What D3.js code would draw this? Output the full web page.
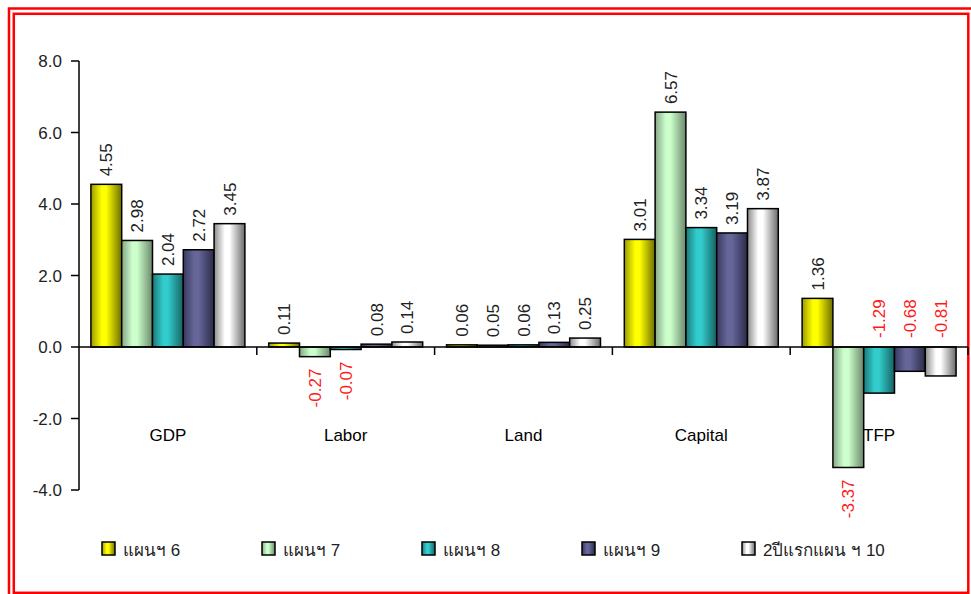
<!DOCTYPE html>
<html>
<head>
<meta charset="utf-8">
<script src="https://cdn.jsdelivr.net/npm/d3@7"></script>
<style>
  html, body { margin: 0; padding: 0; background: #fff; }
  svg { display: block; }
  text { font-family: "Liberation Sans", Arial, "Noto Sans", "DejaVu Sans", sans-serif; }
</style>
</head>
<body>
<svg id="chart" width="971" height="594"></svg>
<script>
// ---- data ----
const categories = ["GDP", "Labor", "Land", "Capital", "TFP"];
const seriesNames = ["แผนฯ 6", "แผนฯ 7", "แผนฯ 8", "แผนฯ 9", "2ปีแรกแผน ฯ 10"];
const plan6  = [4.55, 0.11, 0.06, 3.01, 1.36];
const plan7  = [2.98, -0.27, 0.05, 6.57, -3.37];
const plan8  = [2.04, -0.07, 0.06, 3.34, -1.29];
const plan9  = [2.72, 0.08, 0.13, 3.19, -0.68];
const plan10 = [3.45, 0.14, 0.25, 3.87, -0.81];
const yTicks = [-4, -2, 0, 2, 4, 6, 8];

const seriesValues = [plan6, plan7, plan8, plan9, plan10];
// bar gradient colours [edge-left, centre, edge-right]
const seriesColors = [
  ["#9a9a00", "#ffff00", "#6e6e00"],
  ["#86a686", "#ccffcc", "#6a886a"],
  ["#1d7878", "#33cccc", "#176262"],
  ["#393960", "#666699", "#2a2a48"],
  ["#8c8c8c", "#ffffff", "#6a6a6a"]
];

const hyphen = f => (v => f(v).replace("\u2212", "-"));
const fmt1 = hyphen(d3.format(".1f"));
const fmt2 = hyphen(d3.format(".2f"));

const svg = d3.select("#chart");

// frame (double red border)
svg.append("rect").attr("x", 9).attr("y", 8.5).attr("width", 966).attr("height", 592)
  .attr("fill", "none").attr("stroke", "#ff0000").attr("stroke-width", 2.5);
svg.append("rect").attr("x", 13.8).attr("y", 13.8).attr("width", 954.5).attr("height", 579)
  .attr("fill", "none").attr("stroke", "#ff0000").attr("stroke-width", 2.5);

// gradients
const defs = svg.append("defs");
seriesColors.forEach((c, i) => {
  const g = defs.append("linearGradient").attr("id", "grad" + i)
    .attr("x1", "0").attr("x2", "1").attr("y1", "0").attr("y2", "0");
  g.append("stop").attr("offset", "0").attr("stop-color", c[0]);
  g.append("stop").attr("offset", "0.35").attr("stop-color", c[1]);
  g.append("stop").attr("offset", "0.5").attr("stop-color", c[1]);
  g.append("stop").attr("offset", "1").attr("stop-color", c[2]);
});

// scales
const plotLeft = 79, plotRight = 968;
const y = d3.scaleLinear().domain([-4, 8]).range([490, 61]);
const x0 = d3.scaleBand().domain(categories).range([plotLeft, plotRight]).paddingInner(0).paddingOuter(0);
const bw0 = x0.bandwidth();
const x1 = d3.scaleBand().domain(d3.range(seriesNames.length))
  .range([bw0 * 0.067, bw0 * 0.933]).paddingInner(0).paddingOuter(0);

const fontAxis = 17;
const textColor = "#222";

// y axis
const yAxis = svg.append("g");
yAxis.append("line").attr("x1", plotLeft).attr("x2", plotLeft)
  .attr("y1", y(8)).attr("y2", y(-4)).attr("stroke", "#000").attr("stroke-width", 1.5);
yTicks.forEach(t => {
  yAxis.append("line").attr("x1", plotLeft - 8).attr("x2", plotLeft)
    .attr("y1", y(t)).attr("y2", y(t)).attr("stroke", "#000").attr("stroke-width", 1.5);
  yAxis.append("text").attr("x", 62).attr("y", y(t)).attr("dy", "0.36em")
    .attr("text-anchor", "end").attr("font-size", fontAxis).attr("fill", textColor)
    .text(fmt1(t));
});

// bars
const bars = svg.append("g");
categories.forEach((cat, ci) => {
  seriesValues.forEach((vals, si) => {
    const v = vals[ci];
    const bx = x0(cat) + x1(si);
    const top = y(Math.max(0, v)), bot = y(Math.min(0, v));
    bars.append("rect").attr("x", bx).attr("y", top)
      .attr("width", x1.bandwidth()).attr("height", Math.max(bot - top, 0.5))
      .attr("fill", "url(#grad" + si + ")").attr("stroke", "#000").attr("stroke-width", 1.5);
  });
});

// zero axis + category ticks
svg.append("line").attr("x1", plotLeft).attr("x2", plotRight)
  .attr("y1", y(0)).attr("y2", y(0)).attr("stroke", "#000").attr("stroke-width", 1.5);
categories.forEach(cat => {
  const xe = x0(cat) + bw0;
  svg.append("line").attr("x1", xe).attr("x2", xe)
    .attr("y1", y(0)).attr("y2", y(0) + 8).attr("stroke", "#000").attr("stroke-width", 1.5);
});

// category labels
categories.forEach(cat => {
  svg.append("text").attr("x", x0(cat) + bw0 / 2).attr("y", 441)
    .attr("text-anchor", "middle").attr("font-size", fontAxis).attr("fill", "#000").text(cat);
});

// value labels
const labels = svg.append("g");
categories.forEach((cat, ci) => {
  const minInCat = d3.min(seriesValues, s => s[ci]);
  seriesValues.forEach((vals, si) => {
    const v = vals[ci];
    const cx = x0(cat) + x1(si) + x1.bandwidth() / 2;
    let py, anchor, color = textColor;
    if (v >= 0) {
      py = y(v) - 8; anchor = "start";
    } else {
      color = "#ff1a1a";
      if (cat === "TFP" && v !== minInCat) { py = y(0) - 9; anchor = "start"; }
      else { py = y(v) + 12; anchor = "end"; }
    }
    labels.append("text")
      .attr("transform", `translate(${cx},${py}) rotate(-90)`)
      .attr("dy", "0.36em").attr("text-anchor", anchor)
      .attr("font-size", 17).attr("fill", color)
      .text(fmt2(v));
  });
});

// legend
const legend = svg.append("g");
seriesNames.forEach((name, i) => {
  const lx = 102 + i * 160, ly = 542;
  legend.append("rect").attr("x", lx).attr("y", ly).attr("width", 13).attr("height", 13)
    .attr("fill", "url(#grad" + i + ")").attr("stroke", "#000").attr("stroke-width", 1.5);
  legend.append("text").attr("x", lx + 21).attr("y", ly + 14)
    .attr("font-size", 17).attr("fill", textColor).text(name);
});
</script>
</body>
</html>
